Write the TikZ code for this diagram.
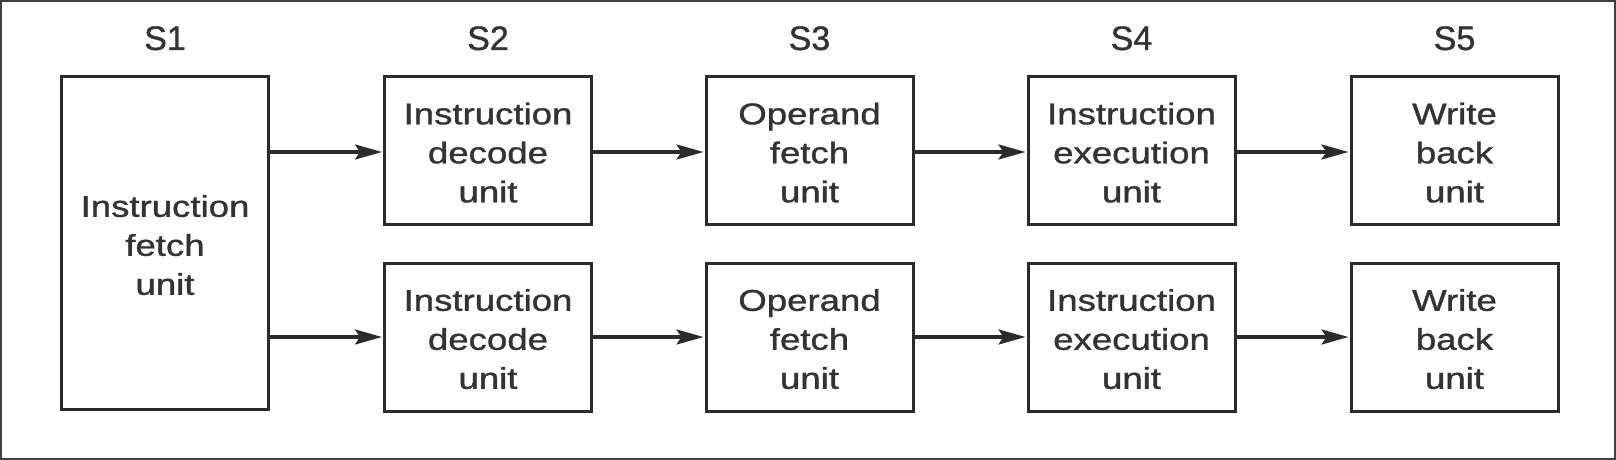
\documentclass[tikz,border=0pt]{standalone}
\usepackage{fontspec}
\setmainfont{Liberation Sans}
\newfontfamily\heavyfont[FakeBold=1.0]{Liberation Sans}
\usetikzlibrary{arrows.meta}
\definecolor{ink}{HTML}{2B2B2B}
\definecolor{txt}{HTML}{333333}
\newcommand{\boxtext}[1]{\raisebox{-5pt}[\height][\depth]{\scalebox{1.22}[1]{\heavyfont\fontsize{30}{39}\selectfont\begin{tabular}{@{}c@{}}#1\end{tabular}}}}
\begin{document}
\begin{tikzpicture}[x=1pt,y=-1pt,
  unitbox/.style={draw=ink,line width=3pt,fill=white,text=txt,inner sep=0pt,
    minimum width=207pt,minimum height=148pt},
  tallbox/.style={unitbox,minimum height=333pt},
  stagelbl/.style={anchor=base,text=txt,font=\heavyfont\fontsize{34}{40}\selectfont,inner sep=0pt},
  arr/.style={draw=ink,line width=3.2pt,-{Stealth[length=27pt,width=15pt,inset=5pt]},shorten >=1pt}]
\useasboundingbox (0,0) rectangle (1616,460);
\fill[white] (0,0) rectangle (1616,460);
\draw[draw=ink!90,line width=2pt] (1,1) rectangle (1615,459);
% boxes
\node[tallbox] (b1) at (165,243) {\boxtext{Instruction\\fetch\\unit}};
\node[unitbox] (b2t) at (488,150.5) {\boxtext{Instruction\\decode\\unit}};
\node[unitbox] (b2b) at (488,337) {\boxtext{Instruction\\decode\\unit}};
\node[unitbox] (b3t) at (809.5,150.5) {\boxtext{Operand\\fetch\\unit}};
\node[unitbox] (b3b) at (809.5,337) {\boxtext{Operand\\fetch\\unit}};
\node[unitbox] (b4t) at (1131.5,150.5) {\boxtext{Instruction\\execution\\unit}};
\node[unitbox] (b4b) at (1131.5,337) {\boxtext{Instruction\\execution\\unit}};
\node[unitbox] (b5t) at (1454.5,150.5) {\boxtext{Write\\back\\unit}};
\node[unitbox] (b5b) at (1454.5,337) {\boxtext{Write\\back\\unit}};
% stage labels
\node[stagelbl] (l1) at ([yshift=25pt]b1.north) {S1};
\node[stagelbl] (l2) at ([yshift=25pt]b2t.north) {S2};
\node[stagelbl] (l3) at ([yshift=25pt]b3t.north) {S3};
\node[stagelbl] (l4) at ([yshift=25pt]b4t.north) {S4};
\node[stagelbl] (l5) at ([yshift=25pt]b5t.north) {S5};
% connectors
\coordinate (c1t) at (b1.east |- 0,152);
\coordinate (c1b) at (b1.east |- 0,337);
\draw[arr] (c1t) -- (b2t.west |- c1t);
\draw[arr] (c1b) -- (b2b.west |- c1b);
\draw[arr] (b2t.east |- c1t) -- (b3t.west |- c1t);
\draw[arr] (b3t.east |- c1t) -- (b4t.west |- c1t);
\draw[arr] (b4t.east |- c1t) -- (b5t.west |- c1t);
\draw[arr] (b2b) -- (b3b);
\draw[arr] (b3b) -- (b4b);
\draw[arr] (b4b) -- (b5b);
\end{tikzpicture}
\end{document}
